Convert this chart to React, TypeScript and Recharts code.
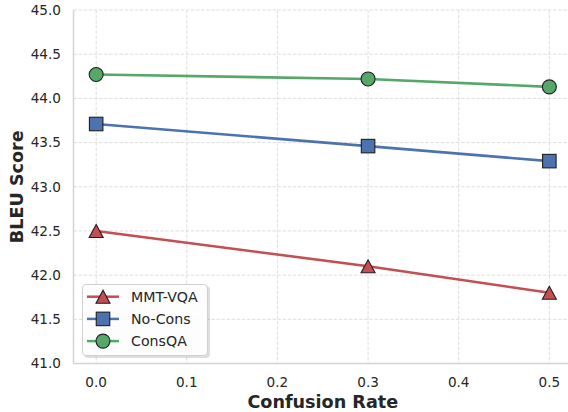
import React from 'react';
import { LineChart, Line, XAxis, YAxis, CartesianGrid } from 'recharts';

const rates = [0.0, 0.3, 0.5];
const mmtVqa = [42.5, 42.1, 41.8];
const noCons = [43.71, 43.46, 43.29];
const consQA = [44.27, 44.22, 44.13];
const xTicks = [0, 0.1, 0.2, 0.3, 0.4, 0.5];
const yTicks = [41, 41.5, 42, 42.5, 43, 43.5, 44, 44.5, 45];

const seriesKeys = ['mmt', 'nocons', 'consqa'];
const seriesNames = ['MMT-VQA', 'No-Cons', 'ConsQA'];
const seriesColors = ['#C44E52', '#4C72B0', '#55A868'];
const seriesShapes = ['triangle', 'square', 'circle'];

const data = rates.map((r, i) => ({
  rate: r,
  mmt: mmtVqa[i],
  nocons: noCons[i],
  consqa: consQA[i],
}));

const FONT = '"DejaVu Sans", Verdana, sans-serif';
const EDGE = '#1f1f1f';

function markerEl(shape: string, cx: number, cy: number, color: string, key?: any) {
  if (shape === 'triangle') {
    const w = 14, h = 13;
    const pts = `${cx},${cy - h / 2} ${cx - w / 2},${cy + h / 2} ${cx + w / 2},${cy + h / 2}`;
    return <polygon key={key} points={pts} fill={color} stroke={EDGE} strokeWidth={1.1} strokeLinejoin="miter" />;
  }
  if (shape === 'square') {
    const s = 13.5;
    return <rect key={key} x={cx - s / 2} y={cy - s / 2} width={s} height={s} fill={color} stroke={EDGE} strokeWidth={1.1} />;
  }
  return <circle key={key} cx={cx} cy={cy} r={7} fill={color} stroke={EDGE} strokeWidth={1.1} />;
}

function makeDot(idx: number) {
  return (props: any) => {
    const { cx, cy, index } = props;
    if (cx == null || cy == null) return <g key={index} />;
    return markerEl(seriesShapes[idx], cx, cy, seriesColors[idx], `${idx}-${index}`);
  };
}

const XLabel = (props: any) => {
  const vb = props.viewBox || {};
  return (
    <text x={vb.x + vb.width / 2} y={vb.y + 44.5} textAnchor="middle" fontFamily={FONT} fontWeight="bold" fontSize={17.6} fill="#262626">
      Confusion Rate
    </text>
  );
};

const YLabel = (props: any) => {
  const vb = props.viewBox || {};
  const cy = vb.y + vb.height / 2;
  const x = 23;
  return (
    <text x={x} y={cy} transform={`rotate(-90, ${x}, ${cy})`} textAnchor="middle" fontFamily={FONT} fontWeight="bold" fontSize={17.6} fill="#262626">
      BLEU Score
    </text>
  );
};

function LegendBox() {
  return (
    <div style={{ position: 'absolute', left: 82, top: 284, width: 126, height: 72 }}>
      <div style={{ position: 'absolute', left: 2, top: 2, width: 126, height: 72, borderRadius: 4, background: 'rgba(0,0,0,0.13)' }} />
      <div style={{ position: 'absolute', left: 0, top: 0, width: 124, height: 70, borderRadius: 4, background: 'rgba(255,255,255,0.92)', border: '1px solid #d0d0d0' }} />
      <svg width={126} height={72} style={{ position: 'absolute', left: 0, top: 0 }}>
        {seriesNames.map((name, i) => {
          const cy = 12.7 + i * 22.2;
          return (
            <g key={name}>
              <line x1={5} x2={37} y1={cy} y2={cy} stroke={seriesColors[i]} strokeWidth={2.5} />
              {markerEl(seriesShapes[i], 21, cy, seriesColors[i])}
              <text x={49} y={cy} dy="0.36em" fontFamily={FONT} fontSize={14.2} fill="#262626">{name}</text>
            </g>
          );
        })}
      </svg>
    </div>
  );
}

export default function App() {
  return (
    <div style={{ position: 'absolute', left: 0, top: 0, width: 568, height: 412, overflow: 'hidden', background: '#fff' }}>
      <LineChart width={580} height={412} data={data} margin={{ top: 10, right: 8, bottom: 0, left: 0 }}>
        <CartesianGrid stroke="#dedede" strokeDasharray="3.5 1.6" strokeWidth={1} />
        <XAxis
          dataKey="rate"
          type="number"
          domain={[-0.025, 0.525]}
          ticks={xTicks}
          tickFormatter={(v: number) => v.toFixed(1)}
          height={48.5}
          axisLine={{ stroke: '#d4d4d4', strokeWidth: 1.5 }}
          tickLine={false}
          tickSize={6}
          tickMargin={7.5}
          tick={{ fontFamily: FONT, fontSize: 13.6, fill: '#262626' }}
          allowDataOverflow
          label={<XLabel />}
        />
        <YAxis
          type="number"
          domain={[41, 45]}
          ticks={yTicks}
          tickFormatter={(v: number) => v.toFixed(1)}
          width={73.5}
          axisLine={{ stroke: '#d4d4d4', strokeWidth: 1.5 }}
          tickLine={false}
          tickSize={6}
          tickMargin={6.5}
          tick={{ fontFamily: FONT, fontSize: 13.6, fill: '#262626' }}
          allowDataOverflow
          label={<YLabel />}
        />
        {seriesKeys.map((k, i) => (
          <Line
            key={k}
            dataKey={k}
            name={seriesNames[i]}
            stroke={seriesColors[i]}
            strokeWidth={2.6}
            dot={makeDot(i)}
            activeDot={false}
            isAnimationActive={false}
          />
        ))}
      </LineChart>
      <LegendBox />
    </div>
  );
}
